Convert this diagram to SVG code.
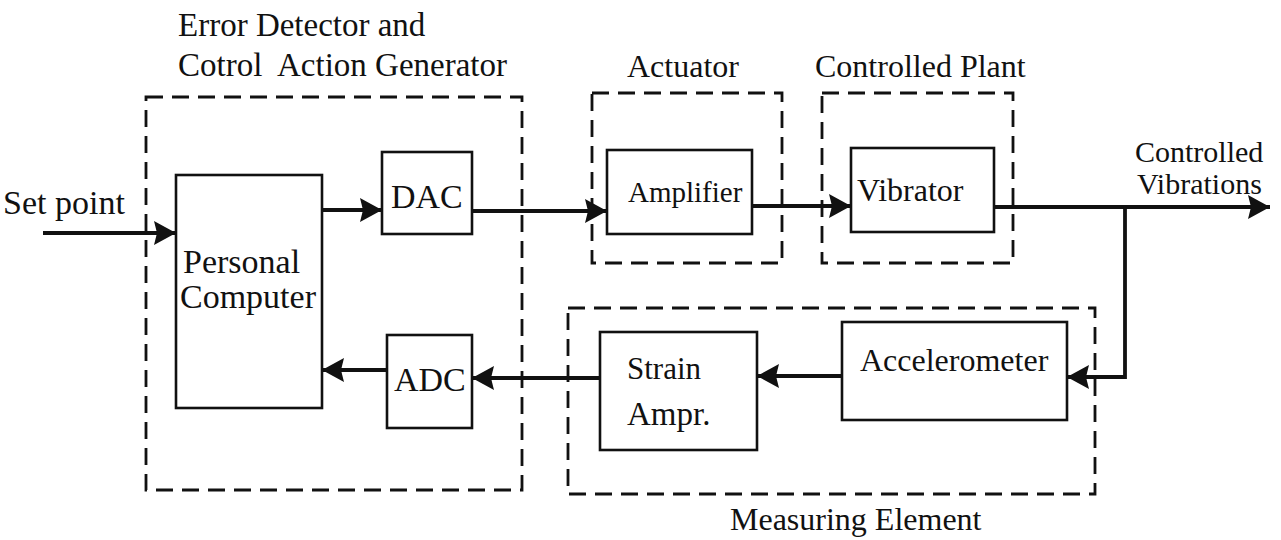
<svg xmlns="http://www.w3.org/2000/svg" width="1281" height="540" viewBox="0 0 1281 540" font-family="'Liberation Serif', 'DejaVu Serif', serif">
<style>
text{font-family:'Liberation Serif','Times New Roman','DejaVu Serif',serif;font-size:32px;fill:#111}
.sm{font-size:30px}
.title{font-size:33px}
.big{font-size:34px}
.box{fill:none;stroke:#111;stroke-width:2.6}
.grp{fill:none;stroke:#111;stroke-width:2.8;stroke-dasharray:17 9}
.wire{fill:none;stroke:#111;stroke-width:3.8;marker-end:url(#ah)}
</style>
<defs>
<marker id="ah" viewBox="0 0 22 24" refX="22" refY="12" markerWidth="22" markerHeight="24" markerUnits="userSpaceOnUse" orient="auto">
<path d="M0,0 L22,12 L0,24 L3,12 z" fill="#111"/>
</marker>
</defs>
<rect width="1281" height="540" fill="#fff"/>

<g id="group-controller">
<rect class="grp" x="146" y="97" width="376" height="393"/>
<text class="title" x="178" y="36">Error Detector and</text>
<text class="title" x="178" y="76" xml:space="preserve">Cotrol  Action Generator</text>
</g>
<g id="group-actuator">
<rect class="grp" x="592" y="93" width="190" height="170"/>
<text x="627" y="77">Actuator</text>
</g>
<g id="group-plant">
<rect class="grp" x="822" y="93" width="191" height="170"/>
<text x="815" y="77">Controlled Plant</text>
</g>
<g id="group-measuring">
<rect class="grp" x="568" y="308" width="527" height="186"/>
<text x="730" y="530">Measuring Element</text>
</g>

<g id="pc">
<rect class="box" x="176" y="175" width="146" height="233"/>
<text class="big" x="183" y="273">Personal</text>
<text class="big" x="180" y="308">Computer</text>
</g>
<g id="dac">
<rect class="box" x="382" y="152" width="90" height="82"/>
<text class="big" x="391" y="208">DAC</text>
</g>
<g id="adc">
<rect class="box" x="387" y="335" width="85" height="93"/>
<text class="big" x="394" y="391">ADC</text>
</g>
<g id="amplifier">
<rect class="box" x="607" y="150" width="145" height="84"/>
<text x="628" y="202" style="font-size:29px">Amplifier</text>
</g>
<g id="vibrator">
<rect class="box" x="851" y="148" width="143" height="84"/>
<text x="857" y="201">Vibrator</text>
</g>
<g id="strain">
<rect class="box" x="600" y="332" width="157" height="118"/>
<text x="627" y="379" style="font-size:31px">Strain</text>
<text x="627" y="425" style="font-size:33px">Ampr.</text>
</g>
<g id="accelerometer">
<rect class="box" x="842" y="322" width="225" height="98"/>
<text x="860" y="371">Accelerometer</text>
</g>

<g id="labels">
<text class="big" x="3" y="214">Set point</text>
<text class="sm" x="1135" y="162">Controlled</text>
<text class="sm" x="1137" y="194">Vibrations</text>
</g>

<g id="connectors">
<path class="wire" d="M43,233 H176"/>
<path class="wire" d="M322,210 H382"/>
<path class="wire" d="M472,211 H607"/>
<path class="wire" d="M752,206 H851"/>
<path class="wire" d="M994,207 H1270"/>
<path class="wire" d="M1125,207 V377 H1067"/>
<path class="wire" d="M842,376 H757"/>
<path class="wire" d="M600,378 H472"/>
<path class="wire" d="M387,370 H322"/>
</g>
</svg>
